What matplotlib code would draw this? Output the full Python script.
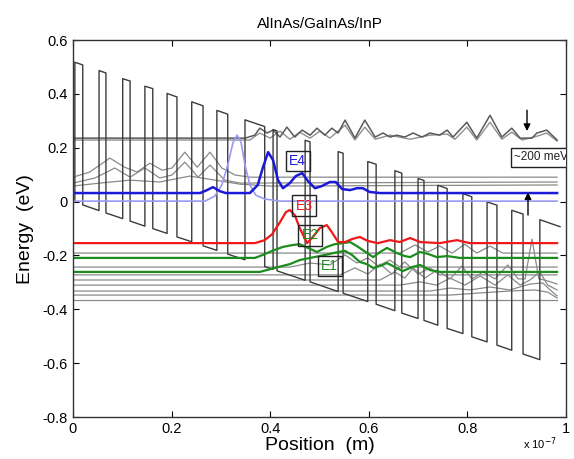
import matplotlib
matplotlib.use('Agg')
import matplotlib.pyplot as plt

plt.rcParams['font.family'] = ['Liberation Sans', 'DejaVu Sans']

# positions in units of 1e-7 m, energies in eV

# conduction band edge (corner points)
band_x = [0.004, 0.004, 0.020, 0.020, 0.053, 0.053, 0.067, 0.067, 0.101, 0.101, 0.116, 0.116,
          0.146, 0.146, 0.162, 0.162, 0.191, 0.191, 0.211, 0.211, 0.241, 0.241, 0.264, 0.264,
          0.292, 0.292, 0.314, 0.314, 0.349, 0.349, 0.389, 0.389, 0.406, 0.406, 0.414, 0.414,
          0.471, 0.471, 0.481, 0.481, 0.538, 0.538, 0.548, 0.548, 0.598, 0.598, 0.615, 0.615,
          0.653, 0.653, 0.667, 0.667, 0.700, 0.700, 0.712, 0.712, 0.740, 0.740, 0.759, 0.759,
          0.791, 0.791, 0.809, 0.809, 0.840, 0.840, 0.860, 0.860, 0.890, 0.890, 0.913, 0.913,
          0.947, 0.947, 0.988]
band_e = [-0.002, 0.518, 0.508, -0.012, -0.033, 0.487, 0.478, -0.042, -0.063, 0.457, 0.448, -0.072,
          -0.091, 0.429, 0.420, -0.100, -0.118, 0.402, 0.389, -0.131, -0.149, 0.371, 0.356, -0.164,
          -0.181, 0.339, 0.325, -0.195, -0.216, 0.304, 0.279, -0.241, -0.252, 0.268, 0.263, -0.257,
          -0.292, 0.228, 0.222, -0.298, -0.334, 0.186, 0.180, -0.340, -0.371, 0.149, 0.139, -0.381,
          -0.405, 0.115, 0.106, -0.414, -0.434, 0.086, 0.079, -0.441, -0.459, 0.061, 0.049, -0.471,
          -0.490, 0.030, 0.018, -0.502, -0.521, -0.001, -0.013, -0.533, -0.552, -0.032, -0.046, -0.566,
          -0.587, -0.067, -0.093]

# upper states
upA_x = [0, 0.349, 0.369, 0.379, 0.394, 0.406, 0.420, 0.434, 0.450, 0.465, 0.481, 0.495, 0.511,
         0.525, 0.538, 0.552, 0.572, 0.592, 0.613, 0.629, 0.643, 0.657, 0.673, 0.690, 0.708, 0.724,
         0.744, 0.759, 0.771, 0.799, 0.819, 0.846, 0.870, 0.890, 0.907, 0.931, 0.941, 0.961, 0.982]
upA_e = [0.236, 0.236, 0.247, 0.273, 0.255, 0.266, 0.240, 0.277, 0.240, 0.266, 0.247, 0.273, 0.247,
         0.273, 0.255, 0.303, 0.236, 0.303, 0.240, 0.255, 0.240, 0.247, 0.240, 0.255, 0.240, 0.255,
         0.247, 0.266, 0.240, 0.295, 0.236, 0.321, 0.240, 0.273, 0.236, 0.236, 0.255, 0.266, 0.229]
upB_x = [0, 0.359, 0.379, 0.400, 0.420, 0.440, 0.460, 0.481, 0.501, 0.521, 0.552, 0.572, 0.592,
         0.613, 0.643, 0.684, 0.724, 0.759, 0.775, 0.799, 0.819, 0.846, 0.870, 0.890, 0.911, 0.941,
         0.961, 0.982]
upB_e = [0.229, 0.229, 0.255, 0.236, 0.262, 0.232, 0.258, 0.236, 0.262, 0.236, 0.284, 0.229, 0.277,
         0.232, 0.247, 0.232, 0.247, 0.251, 0.232, 0.277, 0.229, 0.295, 0.232, 0.258, 0.229, 0.243,
         0.255, 0.225]

# injector states
c_x = [0, 0.034, 0.075, 0.105, 0.130, 0.156, 0.181, 0.201, 0.227, 0.252, 0.278, 0.302, 0.329, 0.359, 0.982]
c_e = [0.091, 0.110, 0.162, 0.128, 0.110, 0.143, 0.117, 0.125, 0.184, 0.128, 0.184, 0.125, 0.099, 0.091, 0.091]
d_x = [0, 0.045, 0.085, 0.116, 0.146, 0.176, 0.201, 0.227, 0.254, 0.278, 0.308, 0.339, 0.982]
d_e = [0.069, 0.088, 0.125, 0.091, 0.125, 0.088, 0.099, 0.147, 0.091, 0.136, 0.080, 0.069, 0.073]
f_x = [0, 0.055, 0.116, 0.176, 0.237, 0.288, 0.339, 0.400, 0.982]
f_e = [0.058, 0.069, 0.080, 0.073, 0.095, 0.080, 0.065, 0.058, 0.062]

lb_x = [0, 0.268, 0.288, 0.302, 0.314, 0.325, 0.333, 0.341, 0.349, 0.359, 0.371, 0.389, 0.420, 0.982]
lb_e = [0.002, 0.002, 0.021, 0.062, 0.136, 0.221, 0.247, 0.221, 0.136, 0.062, 0.024, 0.010, 0.002, 0.002]

# laser levels
e4_x = [0, 0.258, 0.272, 0.284, 0.298, 0.310, 0.359, 0.375, 0.385, 0.396, 0.406, 0.416, 0.426, 0.440,
        0.452, 0.465, 0.477, 0.491, 0.505, 0.521, 0.533, 0.546, 0.562, 0.576, 0.588, 0.602, 0.623, 0.982]
e4_e = [0.032, 0.032, 0.043, 0.054, 0.039, 0.032, 0.032, 0.062, 0.125, 0.184, 0.154, 0.080, 0.050, 0.069,
        0.095, 0.106, 0.076, 0.050, 0.058, 0.073, 0.073, 0.047, 0.043, 0.050, 0.050, 0.036, 0.032, 0.032]
e3_x = [0, 0.369, 0.389, 0.404, 0.420, 0.432, 0.440, 0.450, 0.460, 0.475, 0.485, 0.501, 0.515, 0.525,
        0.538, 0.552, 0.566, 0.582, 0.598, 0.619, 0.643, 0.663, 0.684, 0.704, 0.744, 0.779, 0.805, 0.982]
e3_e = [-0.154, -0.154, -0.143, -0.121, -0.076, -0.039, -0.031, -0.050, -0.098, -0.154, -0.135, -0.098,
        -0.087, -0.113, -0.150, -0.150, -0.139, -0.131, -0.146, -0.154, -0.143, -0.150, -0.135, -0.150,
        -0.154, -0.143, -0.154, -0.154]
e2_x = [0, 0.369, 0.385, 0.404, 0.426, 0.446, 0.460, 0.477, 0.495, 0.515, 0.531, 0.548, 0.562, 0.576,
        0.588, 0.609, 0.623, 0.637, 0.649, 0.657, 0.673, 0.684, 0.704, 0.720, 0.738, 0.759, 0.785, 0.982]
e2_e = [-0.209, -0.209, -0.198, -0.183, -0.168, -0.161, -0.158, -0.172, -0.187, -0.168, -0.158, -0.154,
        -0.150, -0.165, -0.180, -0.206, -0.187, -0.172, -0.183, -0.191, -0.202, -0.206, -0.187, -0.194,
        -0.206, -0.202, -0.209, -0.209]
e1_x = [0, 0.379, 0.410, 0.440, 0.460, 0.481, 0.501, 0.521, 0.538, 0.552, 0.566, 0.582, 0.596, 0.609,
        0.623, 0.637, 0.653, 0.669, 0.688, 0.704, 0.724, 0.744, 0.982]
e1_e = [-0.261, -0.261, -0.246, -0.232, -0.217, -0.209, -0.202, -0.194, -0.187, -0.183, -0.198, -0.224,
        -0.232, -0.246, -0.239, -0.228, -0.243, -0.258, -0.243, -0.235, -0.254, -0.261, -0.261]

# lower injector states
g1_x = [0, 0.663, 0.694, 0.720, 0.744, 0.769, 0.795, 0.819, 0.846, 0.872, 0.982]
g1_e = [-0.191, -0.191, -0.161, -0.187, -0.165, -0.191, -0.158, -0.191, -0.165, -0.191, -0.191]
g2_x = [0, 0.440, 0.481, 0.521, 0.552, 0.576, 0.598, 0.619, 0.643, 0.663, 0.982]
g2_e = [-0.243, -0.243, -0.228, -0.235, -0.198, -0.228, -0.209, -0.239, -0.217, -0.243, -0.243]
g3_x = [0, 0.542, 0.572, 0.598, 0.623, 0.647, 0.673, 0.700, 0.724, 0.744, 0.982]
g3_e = [-0.272, -0.272, -0.246, -0.269, -0.232, -0.269, -0.224, -0.269, -0.246, -0.272, -0.272]
g4_x = [0, 0.623, 0.653, 0.673, 0.690, 0.714, 0.738, 0.765, 0.789, 0.809, 0.832, 0.856, 0.882,
        0.903, 0.917, 0.931, 0.945, 0.957, 0.982]
g4_e = [-0.291, -0.291, -0.261, -0.284, -0.246, -0.284, -0.254, -0.287, -0.239, -0.287, -0.261, -0.287,
        -0.235, -0.287, -0.287, -0.139, -0.287, -0.291, -0.306]
g5_x = [0, 0.663, 0.704, 0.738, 0.765, 0.795, 0.826, 0.856, 0.882, 0.907, 0.927, 0.947, 0.963, 0.982]
g5_e = [-0.310, -0.310, -0.298, -0.310, -0.284, -0.310, -0.276, -0.310, -0.272, -0.310, -0.291, -0.261,
        -0.310, -0.328]
g6_x = [0, 0.724, 0.765, 0.805, 0.846, 0.886, 0.927, 0.953, 0.968, 0.982]
g6_e = [-0.332, -0.332, -0.321, -0.328, -0.317, -0.328, -0.306, -0.302, -0.328, -0.350]
g7_x = [0, 0.765, 0.826, 0.886, 0.937, 0.963, 0.982]
g7_e = [-0.347, -0.347, -0.339, -0.332, -0.328, -0.336, -0.358]
g8_x = [0, 0.982]
g8_e = [-0.365, -0.365]

xticks = [0, 0.2, 0.4, 0.6, 0.8, 1]
xticklabels = ['0', '0.2', '0.4', '0.6', '0.8', '1']
yticks = [-0.8, -0.6, -0.4, -0.2, 0, 0.2, 0.4, 0.6]
yticklabels = ['-0.8', '-0.6', '-0.4', '-0.2', '0', '0.2', '0.4', '0.6']

fig = plt.figure(figsize=(5.74, 4.59), dpi=100)
ax = fig.add_axes([0.127, 0.0915, 0.859, 0.821])

gray = '#8a8a8a'
for xs, es in [(c_x, c_e), (d_x, d_e), (f_x, f_e), (g1_x, g1_e), (g2_x, g2_e), (g3_x, g3_e),
               (g4_x, g4_e), (g5_x, g5_e), (g6_x, g6_e), (g7_x, g7_e), (g8_x, g8_e)]:
    ax.plot(xs, es, color=gray, lw=0.9)
ax.plot(upB_x, upB_e, color='#909090', lw=1.0)
ax.plot(upA_x, upA_e, color='#5a5a5a', lw=1.1)

ax.plot(band_x, band_e, color='#3c3c3c', lw=1.0)

ax.plot(lb_x, lb_e, color='#9a9af5', lw=1.2)
ax.plot(e1_x, e1_e, color='#1c8c1c', lw=1.6)
ax.plot(e2_x, e2_e, color='#1c8c1c', lw=1.6)
ax.plot(e3_x, e3_e, color='#f01818', lw=1.6)
ax.plot(e4_x, e4_e, color='#1a1ad8', lw=1.8)

box = dict(boxstyle='square,pad=0.25', fc='none', ec='#222222', lw=1.0)
ax.text(0.456, 0.151, 'E4', color='#1a1ad8', fontsize=10, ha='center', va='center', bbox=box)
ax.text(0.469, -0.016, 'E3', color='#f01818', fontsize=10, ha='center', va='center', bbox=box)
ax.text(0.481, -0.124, 'E2', color='#1c8c1c', fontsize=10, ha='center', va='center', bbox=box)
ax.text(0.521, -0.239, 'E1', color='#1c8c1c', fontsize=10, ha='center', va='center', bbox=box)
ax.text(0.895, 0.165, '~200 meV', color='#222222', fontsize=8.5, ha='left', va='center',
        bbox=dict(boxstyle='square,pad=0.3', fc='white', ec='#222222', lw=1.0), clip_on=True)

ax.annotate('', xy=(0.921, 0.252), xytext=(0.921, 0.35),
            arrowprops=dict(arrowstyle='-|>', color='black', lw=1.0, mutation_scale=10))
ax.annotate('', xy=(0.923, 0.045), xytext=(0.923, -0.06),
            arrowprops=dict(arrowstyle='-|>', color='black', lw=1.0, mutation_scale=10))

ax.set_xlim(0, 1)
ax.set_ylim(-0.8, 0.6)
ax.set_xticks(xticks)
ax.set_xticklabels(xticklabels)
ax.set_yticks(yticks)
ax.set_yticklabels(yticklabels)
ax.tick_params(direction='in', top=True, right=True, length=4, labelsize=10.5, width=0.8)
for s in ax.spines.values():
    s.set_linewidth(1.0)
    s.set_color('#333333')

ax.set_title('AlInAs/GaInAs/InP', fontsize=11, pad=9)
ax.set_xlabel('Position  (m)', fontsize=14, labelpad=1)
ax.set_ylabel('Energy  (eV)', fontsize=14, labelpad=6)
fig.text(0.912, 0.022, r'x 10$^{-7}$', fontsize=8)

fig.savefig('out.png', dpi=100)
